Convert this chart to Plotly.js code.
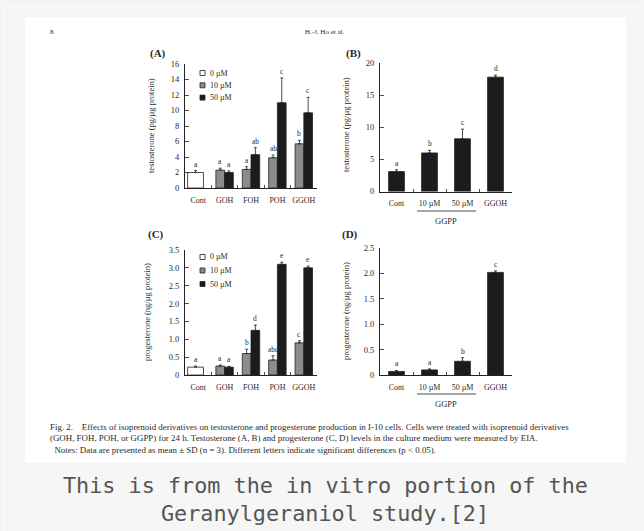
<!DOCTYPE html>
<html>
<head>
<meta charset="utf-8">
<script src="https://cdn.plot.ly/plotly-3.0.1.min.js"></script>
<style>
html,body{margin:0;padding:0;background:#f5f5f5;}
#chart{width:644px;height:531px;}
</style>
</head>
<body>
<div id="chart"></div>
<script>
// ---------- DATA ----------
// Panel A: testosterone, isoprenoid alcohols
const catsA = ['Cont', 'GOH', 'FOH', 'POH', 'GGOH'];
const a0 = [2.0, null, null, null, null];
const a0Err = [0.25, null, null, null, null];
const a0Let = ['a', null, null, null, null];
const a10 = [null, 2.3, 2.4, 3.9, 5.7];
const a10Err = [null, 0.25, 0.35, 0.35, 0.45];
const a10Let = [null, 'a', 'a', 'ab', 'b'];
const a50 = [null, 2.0, 4.3, 11.0, 9.7];
const a50Err = [null, 0.2, 0.9, 3.2, 2.0];
const a50Let = [null, 'a', 'ab', 'c', 'c'];
const ticksA = [0, 2, 4, 6, 8, 10, 12, 14, 16];
const tickTextA = ['0', '2', '4', '6', '8', '10', '12', '14', '16'];

// Panel B: testosterone, GGPP
const catsB = ['Cont', '10 µM', '50 µM', 'GGOH'];
const bVals = [3.1, 6.0, 8.2, 17.8];
const bErr = [0.3, 0.4, 1.5, 0.3];
const bLet = ['a', 'b', 'c', 'd'];
const ticksB = [0, 5, 10, 15, 20];
const tickTextB = ['0', '5', '10', '15', '20'];

// Panel C: progesterone, isoprenoid alcohols
const catsC = ['Cont', 'GOH', 'FOH', 'POH', 'GGOH'];
const c0 = [0.22, null, null, null, null];
const c0Err = [0.03, null, null, null, null];
const c0Let = ['a', null, null, null, null];
const c10 = [null, 0.25, 0.6, 0.42, 0.9];
const c10Err = [null, 0.03, 0.12, 0.12, 0.06];
const c10Let = [null, 'a', 'b', 'abc', 'c'];
const c50 = [null, 0.22, 1.25, 3.1, 3.0];
const c50Err = [null, 0.02, 0.15, 0.06, 0.05];
const c50Let = [null, 'a', 'd', 'e', 'e'];
const ticksC = [0, 0.5, 1.0, 1.5, 2.0, 2.5, 3.0, 3.5];
const tickTextC = ['0', '0.5', '1.0', '1.5', '2.0', '2.5', '3.0', '3.5'];

// Panel D: progesterone, GGPP
const catsD = ['Cont', '10 µM', '50 µM', 'GGOH'];
const dVals = [0.07, 0.1, 0.27, 2.02];
const dErr = [0.02, 0.02, 0.07, 0.03];
const dLet = ['a', 'a', 'b', 'c'];
const ticksD = [0, 0.5, 1.0, 1.5, 2.0, 2.5];
const tickTextD = ['0', '0.5', '1.0', '1.5', '2.0', '2.5'];

const legendLabels = ['0 µM', '10 µM', '50 µM'];
const yTitleT = 'testosterone (pg/µg protein)';
const yTitleP = 'progesterone (ng/µg protein)';
const groupLabel = 'GGPP';

// ---------- STYLE ----------
const W = 644, H = 531;
const px = x => x / W;
const py = y => 1 - y / H;
const SERIF = 'Liberation Serif, Times New Roman, serif';
const INK = '#222222';
const TXT = '#2a2a2a';
const colWhite = '#ffffff', colGray = '#8c8c8c', colBlack = '#1c1c1c';

function bar(cats, vals, errs, color, xa, ya, off, w) {
  return {
    type: 'bar', x: cats, y: vals, xaxis: xa, yaxis: ya,
    offset: off, width: w,
    marker: {color: color, line: {color: INK, width: 0.8}},
    error_y: {type: 'data', array: errs, arrayminus: errs.map(() => 0), symmetric: false,
              color: INK, thickness: 0.8, width: 1.5},
    showlegend: false, hoverinfo: 'skip'
  };
}

const offW = -0.4, wW = 0.6;   // open control bar
const offG = -0.33, wG = 0.33; // 10 µM
const offK = 0.0, wK = 0.33;   // 50 µM
const offS = -0.24, wS = 0.48; // single bars (B, D)

const data = [
  bar(catsA, a0, a0Err, colWhite, 'x', 'y', offW, wW),
  bar(catsA, a10, a10Err, colGray, 'x', 'y', offG, wG),
  bar(catsA, a50, a50Err, colBlack, 'x', 'y', offK, wK),
  bar(catsB, bVals, bErr, colBlack, 'x2', 'y2', offS, wS),
  bar(catsC, c0, c0Err, colWhite, 'x3', 'y3', offW, wW),
  bar(catsC, c10, c10Err, colGray, 'x3', 'y3', offG, wG),
  bar(catsC, c50, c50Err, colBlack, 'x3', 'y3', offK, wK),
  bar(catsD, dVals, dErr, colBlack, 'x4', 'y4', offS, wS)
];

const annotations = [];
function letters(vals, errs, lets, off, w, xref, yref) {
  vals.forEach((v, i) => {
    if (v === null || !lets[i]) return;
    annotations.push({
      xref: xref, yref: yref, x: i + off + w / 2, y: v + (errs[i] || 0),
      text: lets[i], showarrow: false, yanchor: 'bottom', yshift: 0,
      font: {family: SERIF, size: 7.5, color: '#2a2a2a'}
    });
  });
}
letters(a0, a0Err, a0Let, offW, wW, 'x', 'y');
letters(a10, a10Err, a10Let, offG, wG, 'x', 'y');
letters(a50, a50Err, a50Let, offK, wK, 'x', 'y');
letters(bVals, bErr, bLet, offS, wS, 'x2', 'y2');
letters(c0, c0Err, c0Let, offW, wW, 'x3', 'y3');
letters(c10, c10Err, c10Let, offG, wG, 'x3', 'y3');
letters(c50, c50Err, c50Let, offK, wK, 'x3', 'y3');
letters(dVals, dErr, dLet, offS, wS, 'x4', 'y4');

function ptext(x, y, text, size, opts) {
  annotations.push(Object.assign({
    xref: 'paper', yref: 'paper', x: px(x), y: py(y), text: text, showarrow: false,
    xanchor: 'center', yanchor: 'middle',
    font: {family: SERIF, size: size, color: TXT}
  }, opts || {}));
}

// panel labels
ptext(158, 53, '<b>(A)</b>', 11);
ptext(353, 53, '<b>(B)</b>', 11);
ptext(156, 235, '<b>(C)</b>', 11);
ptext(350, 235, '<b>(D)</b>', 11);
// header
ptext(52, 32, '8', 7);
ptext(325, 32, 'H.-J. Ho et al.', 7);
// y titles
ptext(151, 126, yTitleT, 8.5, {textangle: -90});
ptext(346, 125, yTitleT, 8.5, {textangle: -90});
ptext(147, 312, yTitleP, 8.5, {textangle: -90});
ptext(346, 311, yTitleP, 8.5, {textangle: -90});
// GGPP group labels
ptext(446, 221, groupLabel, 8.5);
ptext(446, 404, groupLabel, 8.5);
// legends (A and C)
const legColors = [colWhite, colGray, colBlack];
const shapes = [];
[[73, 12.3], [257, 13.5]].forEach(([y0, dy]) => {
  legendLabels.forEach((lab, k) => {
    const yy = y0 + k * dy;
    shapes.push({type: 'rect', xref: 'paper', yref: 'paper',
      x0: px(200), x1: px(205), y0: py(yy + 2.5), y1: py(yy - 2.5),
      fillcolor: legColors[k], line: {color: INK, width: 0.8}});
    ptext(208, yy, lab, 8, {xanchor: 'left'});
  });
});
// underline for GGPP groups
[211, 394].forEach(yy => {
  shapes.push({type: 'line', xref: 'paper', yref: 'paper',
    x0: px(417), x1: px(476), y0: py(yy), y1: py(yy), line: {color: INK, width: 0.8}});
});
// figure caption
const figCap = [
  'Fig. 2.&nbsp;&nbsp;&nbsp;&nbsp;Effects of isoprenoid derivatives on testosterone and progesterone production in I-10 cells. Cells were treated with isoprenoid derivatives',
  '(GOH, FOH, POH, or GGPP) for 24 h. Testosterone (A, B) and progesterone (C, D) levels in the culture medium were measured by EIA.',
  '&nbsp;&nbsp;Notes: Data are presented as mean ± SD (n = 3). Different letters indicate significant differences (p < 0.05).'
];
figCap.forEach((t, k) => ptext(48, 427 + k * 11.3, t, 8.9, {xanchor: 'left'}));
// page caption
const MONO = 'DejaVu Sans Mono, monospace';
annotations.push({xref: 'paper', yref: 'paper', x: px(325), y: py(485), showarrow: false,
  text: 'This is from the in vitro portion of the', xanchor: 'center', yanchor: 'middle',
  font: {family: MONO, size: 21.8, color: '#555555'}});
annotations.push({xref: 'paper', yref: 'paper', x: px(325), y: py(513), showarrow: false,
  text: 'Geranylgeraniol study.[2]', xanchor: 'center', yanchor: 'middle',
  font: {family: MONO, size: 21.8, color: '#555555'}});

// frame + white figure area (drawn below everything)
shapes.unshift(
  {type: 'rect', xref: 'paper', yref: 'paper', layer: 'below',
   x0: px(4), x1: px(640), y0: py(545), y1: py(7),
   fillcolor: '#f6f6f6', line: {color: '#fbfbfb', width: 1}},
  {type: 'rect', xref: 'paper', yref: 'paper', layer: 'below',
   x0: px(25), x1: px(626), y0: py(463), y1: py(17),
   fillcolor: '#ffffff', line: {width: 0}}
);

const tf = {family: SERIF, size: 8.5, color: TXT};
function xax(dom, anchor) {
  return {domain: dom, anchor: anchor, type: 'category', showline: true, linecolor: INK, linewidth: 1,
    ticks: 'inside', ticklen: 3, tickcolor: INK, tickwidth: 0.8, tickson: 'boundaries',
    tickangle: 0, showgrid: false, zeroline: false, tickfont: {family: SERIF, size: 8, color: TXT},
    ticklabelstandoff: 4, fixedrange: true};
}
function yax(dom, anchor, range, vals, txt) {
  return {domain: dom, anchor: anchor, range: range, showline: true, linecolor: INK, linewidth: 1,
    ticks: 'inside', ticklen: 4, tickcolor: INK, tickwidth: 0.8, tickmode: 'array',
    tickvals: vals, ticktext: txt, showgrid: false, zeroline: false, tickfont: tf,
    ticklabelstandoff: 3, fixedrange: true};
}

const layout = {
  width: W, height: H, margin: {l: 0, r: 0, t: 0, b: 0},
  paper_bgcolor: '#f5f5f5', plot_bgcolor: 'rgba(0,0,0,0)',
  barmode: 'overlay', showlegend: false,
  xaxis: xax([px(185), px(317)], 'y'),
  yaxis: yax([py(188), py(64)], 'x', [0, 16], ticksA, tickTextA),
  xaxis2: xax([px(380), px(512)], 'y2'),
  yaxis2: yax([py(191.5), py(63)], 'x2', [0, 20], ticksB, tickTextB),
  xaxis3: xax([px(185), px(317)], 'y3'),
  yaxis3: yax([py(375), py(250)], 'x3', [0, 3.5], ticksC, tickTextC),
  xaxis4: xax([px(380), px(512)], 'y4'),
  yaxis4: yax([py(375), py(248)], 'x4', [0, 2.5], ticksD, tickTextD),
  shapes: shapes,
  annotations: annotations
};

Plotly.newPlot('chart', data, layout, {staticPlot: true, displayModeBar: false});
</script>
</body>
</html>
